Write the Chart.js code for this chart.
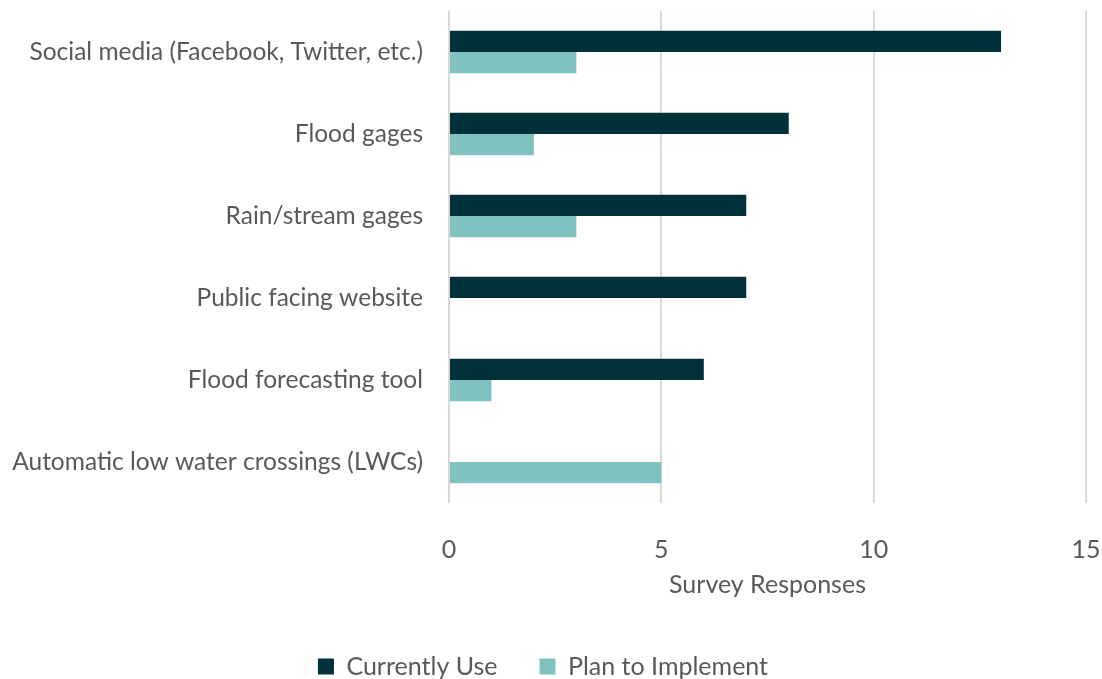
<!DOCTYPE html>
<html>
<head>
<meta charset="utf-8">
<script src="https://cdn.jsdelivr.net/npm/chart.js@4/dist/chart.umd.min.js"></script>
<style>
  html, body { margin: 0; padding: 0; background: #fff; }
  #wrap { width: 1102px; height: 679px; }
</style>
</head>
<body>
<div id="wrap"><canvas id="chart"></canvas></div>
<script>
const categories = [
  "Social media (Facebook, Twitter, etc.)",
  "Flood gages",
  "Rain/stream gages",
  "Public facing website",
  "Flood forecasting tool",
  "Automatic low water crossings (LWCs)"
];
const currentlyUse = [13, 8, 7, 7, 6, 0];
const planToImplement = [3, 2, 3, 0, 1, 5];
const xTicks = [0, 5, 10, 15];

const textColor = "#595959";
const fontFamily = "Lato, 'Open Sans', sans-serif";

new Chart(document.getElementById("chart"), {
  type: "bar",
  data: {
    labels: categories,
    datasets: [
      { label: "Currently Use", data: currentlyUse, backgroundColor: "#00313a" },
      { label: "Plan to Implement", data: planToImplement, backgroundColor: "#80c2c0" }
    ]
  },
  options: {
    indexAxis: "y",
    responsive: true,
    maintainAspectRatio: false,
    animation: false,
    // negative bottom pad pushes the legend row down to where the original sits
    layout: { padding: { top: 11, right: 16, left: 0, bottom: -10 } },
    datasets: { bar: { categoryPercentage: 0.52, barPercentage: 1 } },
    plugins: {
      tooltip: { enabled: false },
      legend: {
        position: "bottom",
        labels: {
          color: textColor,
          font: { family: fontFamily, size: 25 },
          boxWidth: 16,
          boxHeight: 16,
          padding: 42
        }
      }
    },
    scales: {
      x: {
        min: 0,
        max: 15,
        afterBuildTicks: axis => { axis.ticks = xTicks.map(v => ({ value: v })); },
        grid: { color: "#d9d9d9", lineWidth: 2, drawTicks: false },
        border: { display: false },
        ticks: { color: textColor, font: { family: fontFamily, size: 25 }, padding: 32 },
        title: {
          display: true,
          text: "Survey Responses",
          color: textColor,
          font: { family: fontFamily, size: 25 },
          padding: { top: 5, bottom: 12 }
        },
        afterFit: axis => {
          axis.height = 109;
          axis.paddingLeft = 0;
          axis.paddingRight = 0;
        }
      },
      y: {
        grid: { display: false, drawTicks: false },
        border: { display: false },
        ticks: { color: textColor, font: { family: fontFamily, size: 24.5 }, padding: 26 },
        afterFit: axis => {
          axis.width = 449;
          axis.paddingTop = 0;
          axis.paddingBottom = 0;
        }
      }
    }
  }
});
</script>
</body>
</html>
